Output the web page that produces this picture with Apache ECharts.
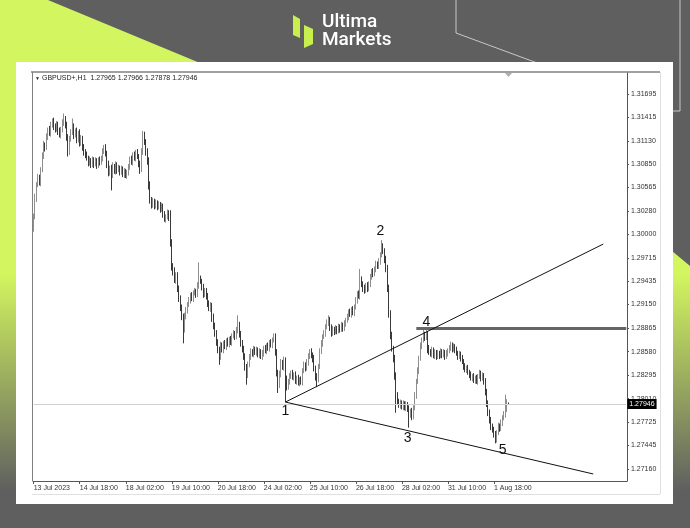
<!DOCTYPE html>
<html><head><meta charset="utf-8">
<script src="https://cdn.jsdelivr.net/npm/echarts@6/dist/echarts.min.js"></script>
<style>html,body{margin:0;padding:0;background:#5f5f5f}#c{width:690px;height:528px}</style>
</head><body><div id="c"></div>
<script>
// ---------- data ----------
const symbolName = 'GBPUSD+,H1';
const headerOHLC = [1.27965, 1.27966, 1.27878, 1.27946];
const xLabels = ['13 Jul 2023','14 Jul 18:00','18 Jul 02:00','19 Jul 10:00','20 Jul 18:00','24 Jul 02:00','25 Jul 10:00','26 Jul 18:00','28 Jul 02:00','31 Jul 10:00','1 Aug 18:00'];
const xLabelStep = 32;      // bars between time labels
const barSlots = 413;       // visible H1 slots on the axis
const yTicks = [1.31695,1.31415,1.31130,1.30850,1.30565,1.30280,1.30000,1.29715,1.29435,1.29150,1.28865,1.28580,1.28295,1.28010,1.27725,1.27445,1.27160];
const firstOpen = 1.3008;
const closes = [
1.3022,1.3045,1.3060,1.3068,1.3063,1.3078,1.3095,1.3108,1.3105,1.3118,1.3126,1.3122,1.3132,1.3137,1.3131,1.3127,1.3133,1.3124,1.3120,1.3126,
1.3135,1.3140,1.3132,1.3118,1.3100,1.3115,1.3124,1.3130,1.3120,1.3125,1.3114,1.3122,1.3110,1.3116,1.3105,1.3100,1.3096,1.3092,1.3086,1.3089,
1.3084,1.3090,1.3085,1.3088,1.3083,1.3090,1.3087,1.3092,1.3100,1.3105,1.3098,1.3085,1.3074,1.3080,1.3072,1.3082,1.3076,1.3084,1.3078,1.3080,
1.3075,1.3079,1.3073,1.3076,1.3071,1.3074,1.3082,1.3090,1.3087,1.3096,1.3092,1.3099,1.3094,1.3085,1.3078,1.3100,1.3120,1.3112,1.3100,1.3090,
1.3060,1.3042,1.3035,1.3040,1.3034,1.3038,1.3033,1.3036,1.3030,1.3034,1.3024,1.3018,1.3021,1.3026,1.3020,1.2990,1.2962,1.2955,1.2945,1.2950,
1.2935,1.2922,1.2912,1.2900,1.2885,1.2900,1.2908,1.2915,1.2920,1.2926,1.2922,1.2929,1.2931,1.2927,1.2938,1.2946,1.2943,1.2936,1.2928,1.2932,
1.2925,1.2917,1.2911,1.2914,1.2900,1.2890,1.2880,1.2870,1.2860,1.2852,1.2865,1.2860,1.2868,1.2864,1.2871,1.2867,1.2873,1.2869,1.2877,1.2880,
1.2876,1.2884,1.2890,1.2880,1.2868,1.2862,1.2852,1.2840,1.2830,1.2842,1.2852,1.2858,1.2855,1.2861,1.2857,1.2860,1.2854,1.2858,1.2852,1.2856,
1.2862,1.2859,1.2865,1.2862,1.2869,1.2866,1.2872,1.2876,1.2858,1.2832,1.2818,1.2830,1.2845,1.2840,1.2848,1.2825,1.2815,1.2822,1.2828,1.2832,
1.2827,1.2830,1.2822,1.2826,1.2820,1.2824,1.2821,1.2835,1.2842,1.2838,1.2845,1.2852,1.2858,1.2854,1.2850,1.2838,1.2828,1.2825,1.2840,1.2858,
1.2868,1.2876,1.2880,1.2888,1.2893,1.2896,1.2888,1.2880,1.2885,1.2882,1.2886,1.2883,1.2888,1.2885,1.2890,1.2886,1.2892,1.2896,1.2900,1.2906,
1.2903,1.2909,1.2905,1.2912,1.2920,1.2928,1.2925,1.2945,1.2940,1.2935,1.2932,1.2938,1.2934,1.2940,1.2948,1.2955,1.2952,1.2958,1.2964,1.2961,
1.2967,1.2975,1.2985,1.2980,1.2970,1.2960,1.2935,1.2905,1.2878,1.2862,1.2850,1.2830,1.2805,1.2798,1.2793,1.2796,1.2791,1.2795,1.2790,1.2794,
1.2789,1.2782,1.2786,1.2780,1.2790,1.2805,1.2822,1.2835,1.2850,1.2865,1.2872,1.2878,1.2875,1.2880,1.2862,1.2858,1.2855,1.2860,1.2853,1.2857,
1.2852,1.2856,1.2853,1.2858,1.2854,1.2857,1.2852,1.2856,1.2859,1.2862,1.2866,1.2861,1.2864,1.2860,1.2856,1.2852,1.2855,1.2850,1.2846,1.2840,
1.2836,1.2838,1.2833,1.2830,1.2826,1.2828,1.2823,1.2826,1.2822,1.2828,1.2832,1.2826,1.2829,1.2822,1.2810,1.2795,1.2785,1.2775,1.2768,1.2764,
1.2758,1.2752,1.2760,1.2768,1.2765,1.2772,1.2778,1.2782,1.2788,1.27965,1.27946];
// wick lengths in pips above max(open,close) and below min(open,close)
const upWick = [
3,4,3,5,4,3,4,5,3,4,3,5,4,3,4,3,4,3,5,4,
4,6,3,4,3,4,3,10,4,3,4,3,5,4,3,4,3,4,3,5,
3,4,3,5,4,3,4,3,4,3,4,3,4,3,4,5,3,4,3,4,
3,4,3,4,3,4,3,4,5,3,4,3,4,3,4,4,5,4,3,4,
3,4,3,4,3,4,3,4,3,4,3,4,3,4,3,9,4,3,5,4,
4,3,4,3,4,5,4,3,4,3,4,3,4,3,4,20,4,3,4,3,
3,4,3,4,3,4,3,4,3,4,5,4,3,4,3,4,3,4,3,4,
3,4,12,4,3,4,3,4,3,4,3,4,3,4,3,4,3,4,3,4,
3,4,3,4,3,4,3,4,4,3,4,5,4,3,4,3,4,3,4,3,
4,3,4,3,4,3,4,3,4,3,4,4,3,4,3,4,3,4,3,4,
4,3,4,3,4,6,4,3,4,3,4,3,4,3,4,3,4,3,4,3,
4,3,4,3,4,3,4,13,4,3,4,3,4,3,4,3,4,3,4,3,
4,3,8,4,3,4,3,4,3,4,3,4,3,4,3,4,3,4,3,4,
3,4,3,4,3,4,3,4,3,4,3,8,4,4,3,4,3,4,3,4,
3,4,3,4,3,4,3,4,3,4,4,3,4,3,4,3,4,3,4,3,
4,3,4,3,4,3,4,3,4,3,4,3,4,3,4,3,4,3,4,3,
3,4,3,4,3,4,3,4,18,4,0.1];
const downWick = [
5,4,6,3,4,5,3,4,5,3,4,3,4,3,5,4,3,4,3,4,
3,4,4,5,6,4,3,4,5,3,4,3,4,3,4,5,4,3,4,3,
4,3,5,3,4,3,4,3,4,3,4,5,4,3,19,4,3,4,5,3,
4,3,4,5,3,4,3,4,3,4,3,4,3,4,5,3,4,4,5,6,
6,5,4,3,4,3,4,3,4,3,4,3,4,3,4,5,6,5,4,5,
5,4,5,4,17,4,3,4,3,4,3,4,3,4,3,4,3,4,5,4,
4,5,4,5,6,5,4,5,4,10,4,3,4,3,4,3,4,3,4,3,
4,3,4,5,4,5,4,5,12,4,3,4,3,4,3,4,3,4,3,4,
4,3,4,3,4,3,4,3,5,4,10,4,3,4,5,28,4,3,4,3,
3,4,3,4,3,4,3,4,3,4,3,4,3,4,5,4,5,10,4,3,
3,4,3,4,3,4,5,4,3,4,3,4,3,4,3,4,3,4,3,4,
3,4,3,4,3,4,3,4,4,5,4,3,4,3,4,3,4,3,4,3,
3,4,3,4,5,6,5,6,5,4,5,6,21,4,3,4,3,4,3,4,
4,16,4,5,4,3,4,3,4,3,4,3,4,3,6,4,3,4,3,4,
4,3,4,3,4,3,4,3,4,3,3,4,3,4,3,4,3,4,3,4,
3,4,3,4,3,4,3,4,3,4,3,4,3,4,5,4,5,4,5,4,
4,5,4,3,4,3,4,3,4,3,0.7];
const bidPrice = 1.27946;
const resistancePrice = 1.28865;
const resistanceFromBar = 266;
const trendUpper = [[175, 1.2797], [396, 1.29881]];
const trendLower = [[175, 1.2797], [389, 1.27100]];
const waveLabels = [
  {name:'1', bar:175, price:1.27862},
  {name:'2', bar:241, price:1.30039},
  {name:'3', bar:260, price:1.27535},
  {name:'4', bar:273, price:1.28938},
  {name:'5', bar:326, price:1.27390}
];

// ---------- build ----------
const categories = Array.from({length: barSlots}, (_, i) => i);
const ohlc = closes.map((c, i) => {
  const o = i === 0 ? firstOpen : closes[i - 1];
  const hi = Math.max(o, c) + upWick[i] * 1e-4;
  const lo = Math.min(o, c) - downWick[i] * 1e-4;
  return [o, c, +lo.toFixed(5), +hi.toFixed(5)];
});

const lime = '#d3f55f', grey = '#5f5f5f';
const grad = {type:'linear', x:0, y:0, x2:0, y2:528, global:true,
  colorStops:[{offset:0,color:lime},{offset:0.52,color:lime},{offset:0.93,color:grey},{offset:1,color:grey}]};
const F = 'Liberation Sans';

const chart = echarts.init(document.getElementById('c'), null, {renderer:'canvas'});
chart.setOption({
  animation:false,
  backgroundColor: grey,
  graphic: [
    {type:'polygon', z:-20, shape:{points:[[0,0],[48,0],[200,63],[16,63],[16,528],[0,528]]}, style:{fill:grad}},
    {type:'polygon', z:-20, shape:{points:[[672,251],[690,266],[690,528],[672,528]]}, style:{fill:grad}},
    {type:'polyline', z:-19, shape:{points:[[456,0],[456,33],[540,64]]}, style:{stroke:'#c8c8c8', lineWidth:1, fill:null}},
    {type:'polyline', z:-19, shape:{points:[[673,111],[680,111],[680,0]]}, style:{stroke:'#c8c8c8', lineWidth:1, fill:null}},
    {type:'rect', z:-18, shape:{x:16, y:62, width:657, height:442}, style:{fill:'#ffffff'}},
    // logo
    {type:'polygon', z:5, shape:{points:[[293,15],[300,19],[300,38],[293,35]]}, style:{fill:'#c9ef4f'}},
    {type:'polygon', z:5, shape:{points:[[304,25],[313,29],[313,44],[304,48]]}, style:{fill:'#c9ef4f'}},
    {type:'text', z:5, style:{x:322, y:13, text:'Ultima', fill:'#ffffff', font:'500 19px Roboto'}},
    {type:'text', z:5, style:{x:322, y:31, text:'Markets', fill:'#ffffff', font:'500 19px Roboto'}},
    // chart frame
    {type:'line', z:-5, shape:{x1:31, y1:72, x2:660, y2:72}, style:{stroke:'#a0a0a0', lineWidth:2}},
    {type:'line', z:-5, shape:{x1:32.5, y1:72, x2:32.5, y2:481}, style:{stroke:'#808080', lineWidth:1}},
    {type:'line', z:-5, shape:{x1:660.5, y1:72, x2:660.5, y2:494}, style:{stroke:'#e0e0e0', lineWidth:1}},
    {type:'line', z:-5, shape:{x1:32, y1:494.5, x2:660, y2:494.5}, style:{stroke:'#e0e0e0', lineWidth:1}},
    {type:'polygon', z:5, shape:{points:[[505,73],[512,73],[508.5,77]]}, style:{fill:'#b0b0b0'}},
    // header
    {type:'text', z:5, style:{x:35, y:76, text:'\u25BC', fill:'#222', font:'5px ' + F}},
    {type:'text', z:5, style:{x:42, y:75, text: symbolName + '  ' + headerOHLC.map(v=>v.toFixed(5)).join(' '), fill:'#222', font:'7px ' + F}}
  ],
  grid: {left:33, right:63, top:73, bottom:47, show:false},
  xAxis: {
    type:'category', data: categories, boundaryGap:true,
    axisLine:{show:true, lineStyle:{color:'#555', width:1}},
    axisTick:{show:true, length:3, alignWithLabel:true, lineStyle:{color:'#555'},
      interval:(idx)=> idx % xLabelStep === 0 && idx / xLabelStep < xLabels.length},
    axisLabel:{interval:(idx)=> idx % xLabelStep === 0 && idx / xLabelStep < xLabels.length,
      formatter:(v, idx)=> xLabels[idx / xLabelStep] || '', align:'left', margin:4,
      fontSize:7, color:'#333', fontFamily:F},
    splitLine:{show:false}
  },
  yAxis: {
    type:'value', position:'right', min:1.27015, max:1.3195, scale:true,
    axisLine:{show:true, lineStyle:{color:'#555'}},
    axisTick:{show:true, length:2, lineStyle:{color:'#555'}, customValues: yTicks},
    axisLabel:{customValues: yTicks, formatter:(v)=> (+v).toFixed(5), margin:4, fontSize:7, color:'#333', fontFamily:F},
    splitLine:{show:false}
  },
  series: [{
    type:'candlestick', data: ohlc, barWidth:1,
    itemStyle:{color:'#ffffff', color0:'#3a3a3a', borderColor:'#8e8e8e', borderColor0:'#3a3a3a', borderWidth:1},
    markLine:{
      symbol:'none', silent:true, animation:false,
      data:[
        [{coord:[0, bidPrice], lineStyle:{color:'#d0d0d0', width:1, type:'solid'},
          label:{show:true, position:'end', distance:1, formatter: bidPrice.toFixed(5), backgroundColor:'#000', color:'#fff',
            fontSize:7, fontFamily:F, padding:[2,2,1,2]}},
         {coord:[barSlots-1, bidPrice]}],
        [{coord:[resistanceFromBar, resistancePrice], lineStyle:{color:'#666', width:3, type:'solid'}, label:{show:false}},
         {coord:[barSlots-1, resistancePrice]}],
        [{coord:trendUpper[0], lineStyle:{color:'#111', width:1, type:'solid'}, label:{show:false}}, {coord:trendUpper[1]}],
        [{coord:trendLower[0], lineStyle:{color:'#111', width:1, type:'solid'}, label:{show:false}}, {coord:trendLower[1]}]
      ]
    },
    markPoint:{
      silent:true, animation:false, symbol:'circle', symbolSize:1,
      itemStyle:{color:'rgba(0,0,0,0)'},
      label:{show:true, position:'inside', formatter:(p)=>p.name, color:'#111', fontSize:14, fontFamily:F},
      data: waveLabels.map(w=>({name:w.name, coord:[w.bar, w.price]}))
    }
  }]
});
</script></body></html>
